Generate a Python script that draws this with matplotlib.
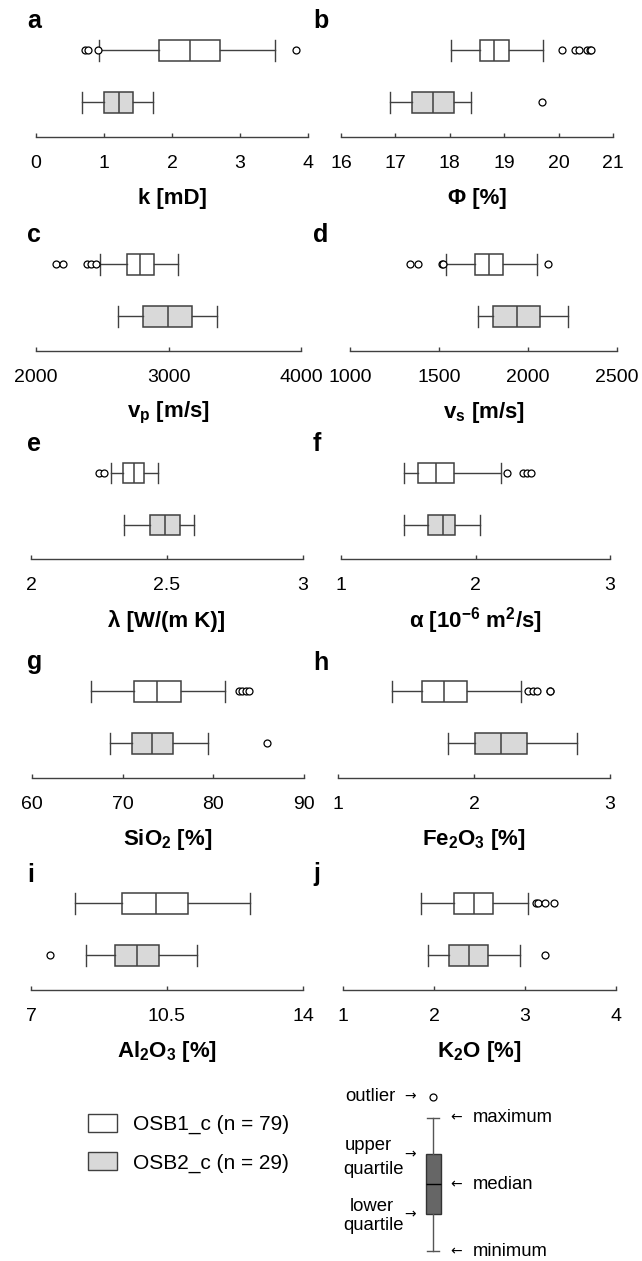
import matplotlib.pyplot as plt
from matplotlib.patches import Patch

plt.rcParams['font.family'] = ['Liberation Sans', 'DejaVu Sans']
plt.rcParams['mathtext.fontset'] = 'custom'
plt.rcParams['mathtext.rm'] = 'Liberation Sans:bold'
plt.rcParams['mathtext.it'] = 'Liberation Sans:bold'
plt.rcParams['mathtext.bf'] = 'Liberation Sans:bold'

W, H = 642, 1261

# five-number summaries: whisker low, lower quartile, median, upper quartile, whisker high
k_osb1 = [0.93, 1.81, 2.26, 2.71, 3.51]
k_osb1_out = [0.72, 0.77, 0.91, 3.83]
k_osb2 = [0.68, 1.00, 1.22, 1.42, 1.72]
k_osb2_out = []
k_ticks = [0, 1, 2, 3, 4]
k_labels = ['0', '1', '2', '3', '4']

phi_osb1 = [18.02, 18.55, 18.82, 19.08, 19.72]
phi_osb1_out = [20.07, 20.31, 20.38, 20.52, 20.58, 20.6]
phi_osb2 = [16.9, 17.31, 17.69, 18.07, 18.39]
phi_osb2_out = [19.7]
phi_ticks = [16, 17, 18, 19, 20, 21]
phi_labels = ['16', '17', '18', '19', '20', '21']

vp_osb1 = [2480, 2684, 2786, 2893, 3070]
vp_osb1_out = [2148, 2206, 2387, 2412, 2455]
vp_osb2 = [2618, 2809, 2997, 3179, 3368]
vp_osb2_out = []
vp_ticks = [2000, 3000, 4000]
vp_labels = ['2000', '3000', '4000']

vs_osb1 = [1541, 1701, 1782, 1858, 2049]
vs_osb1_out = [1338, 1383, 1516, 1523, 2112]
vs_osb2 = [1718, 1802, 1937, 2068, 2223]
vs_osb2_out = []
vs_ticks = [1000, 1500, 2000, 2500]
vs_labels = ['1000', '1500', '2000', '2500']

lam_osb1 = [2.295, 2.338, 2.377, 2.417, 2.468]
lam_osb1_out = [2.249, 2.27]
lam_osb2 = [2.342, 2.436, 2.494, 2.547, 2.6]
lam_osb2_out = []
lam_ticks = [2, 2.5, 3]
lam_labels = ['2', '2.5', '3']

alpha_osb1 = [1.47, 1.57, 1.705, 1.843, 2.19]
alpha_osb1_out = [2.235, 2.355, 2.38, 2.41]
alpha_osb2 = [1.465, 1.646, 1.755, 1.85, 2.03]
alpha_osb2_out = []
alpha_ticks = [1, 2, 3]
alpha_labels = ['1', '2', '3']

sio2_osb1 = [66.5, 71.3, 73.8, 76.4, 81.25]
sio2_osb1_out = [82.8, 83.2, 83.6, 83.9]
sio2_osb2 = [68.6, 71.0, 73.2, 75.5, 79.4]
sio2_osb2_out = [85.9]
sio2_ticks = [60, 70, 80, 90]
sio2_labels = ['60', '70', '80', '90']

fe_osb1 = [1.40, 1.614, 1.78, 1.95, 2.342]
fe_osb1_out = [2.40, 2.435, 2.46, 2.56, 2.56]
fe_osb2 = [1.81, 2.006, 2.198, 2.39, 2.76]
fe_osb2_out = []
fe_ticks = [1, 2, 3]
fe_labels = ['1', '2', '3']

al_osb1 = [8.13, 9.35, 10.21, 11.05, 12.63]
al_osb1_out = []
al_osb2 = [8.42, 9.16, 9.73, 10.29, 11.27]
al_osb2_out = [7.5]
al_ticks = [7, 10.5, 14]
al_labels = ['7', '10.5', '14']

k2o_osb1 = [1.856, 2.223, 2.44, 2.645, 3.038]
k2o_osb1_out = [3.12, 3.14, 3.22, 3.32]
k2o_osb2 = [1.93, 2.168, 2.388, 2.598, 2.94]
k2o_osb2_out = [3.22]
k2o_ticks = [1, 2, 3, 4]
k2o_labels = ['1', '2', '3', '4']

# schematic box for the key
key_box = [1.0, 4.67, 7.67, 10.67, 14.33]
key_out = [16.43]

legend_labels = ['OSB1_c (n = 79)', 'OSB2_c (n = 29)']

panels = [
    ('a', 'k [mD]', k_osb1, k_osb1_out, k_osb2, k_osb2_out, k_ticks, k_labels),
    ('b', 'Φ [%]', phi_osb1, phi_osb1_out, phi_osb2, phi_osb2_out, phi_ticks, phi_labels),
    ('c', 'v$_\\mathregular{p}$ [m/s]', vp_osb1, vp_osb1_out, vp_osb2, vp_osb2_out, vp_ticks, vp_labels),
    ('d', 'v$_\\mathregular{s}$ [m/s]', vs_osb1, vs_osb1_out, vs_osb2, vs_osb2_out, vs_ticks, vs_labels),
    ('e', 'λ [W/(m K)]', lam_osb1, lam_osb1_out, lam_osb2, lam_osb2_out, lam_ticks, lam_labels),
    ('f', 'α [10$^\\mathregular{-6}$ m$^\\mathregular{2}$/s]', alpha_osb1, alpha_osb1_out, alpha_osb2, alpha_osb2_out, alpha_ticks, alpha_labels),
    ('g', 'SiO$_\\mathregular{2}$ [%]', sio2_osb1, sio2_osb1_out, sio2_osb2, sio2_osb2_out, sio2_ticks, sio2_labels),
    ('h', 'Fe$_\\mathregular{2}$O$_\\mathregular{3}$ [%]', fe_osb1, fe_osb1_out, fe_osb2, fe_osb2_out, fe_ticks, fe_labels),
    ('i', 'Al$_\\mathregular{2}$O$_\\mathregular{3}$ [%]', al_osb1, al_osb1_out, al_osb2, al_osb2_out, al_ticks, al_labels),
    ('j', 'K$_\\mathregular{2}$O [%]', k2o_osb1, k2o_osb1_out, k2o_osb2, k2o_osb2_out, k2o_ticks, k2o_labels),
]

LINE = '#404040'
FILL2 = '#d9d9d9'


def rect(x, ytop, w, h):
    return [x / W, 1 - (ytop + h) / H, w / W, h / H]


def stats(s, out):
    return dict(whislo=s[0], q1=s[1], med=s[2], q3=s[3], whishi=s[4], fliers=out)


fig = plt.figure(figsize=(W / 100, H / 100), dpi=100)

# axis extents in pixels (left, right) for each panel
ax_x = [(36, 308), (341, 613), (36, 301), (350, 617), (31, 303),
        (341, 610), (32, 304), (338, 610), (31, 303), (343, 616)]
axis_y = [136.5, 350.5, 559, 777.5, 989.5]
AX_H = 112

for i, (letter, xlabel, s1, o1, s2, o2, ticks, labels) in enumerate(panels):
    row, col = i // 2, i % 2
    x0, x1 = ax_x[i]
    ax = fig.add_axes(rect(x0, axis_y[row] - AX_H, x1 - x0, AX_H))
    bp = ax.bxp([stats(s1, o1), stats(s2, o2)], positions=[2, 1], widths=0.385,
                capwidths=0.385, orientation='horizontal', patch_artist=True,
                manage_ticks=False,
                boxprops=dict(edgecolor=LINE, linewidth=1.1),
                whiskerprops=dict(color=LINE, linewidth=1.0),
                capprops=dict(color=LINE, linewidth=1.0),
                medianprops=dict(color=LINE, linewidth=1.1),
                flierprops=dict(marker='o', markerfacecolor='white',
                                markeredgecolor='black', markersize=5,
                                markeredgewidth=0.9))
    bp['boxes'][0].set_facecolor('white')
    bp['boxes'][1].set_facecolor(FILL2)
    ax.set_xlim(ticks[0], ticks[-1])
    ax.set_ylim(0.346, 2.5)
    for sp in ['top', 'left', 'right']:
        ax.spines[sp].set_visible(False)
    ax.spines['bottom'].set_color(LINE)
    ax.spines['bottom'].set_linewidth(1.0)
    ax.set_yticks([])
    ax.set_xticks(ticks)
    ax.set_xticklabels(labels)
    ax.tick_params(axis='x', direction='in', length=3, width=1.0, color=LINE,
                   labelsize=14, pad=13)
    ax.set_xlabel(xlabel, fontsize=16, fontweight='bold', va='center')
    ax.xaxis.set_label_coords(0.5, -62 / AX_H)
    fig.text((27 if col == 0 else 313) / W, 1 - (axis_y[row] - 108) / H, letter,
             fontsize=18, fontweight='bold', va='baseline', ha='left')

# legend
handles = [Patch(facecolor='white', edgecolor=LINE), Patch(facecolor=FILL2, edgecolor=LINE)]
fig.legend(handles, legend_labels, loc='upper left', bbox_to_anchor=(88 / W, 1 - 1114 / H),
           frameon=False, fontsize=15, handlelength=1.4, handleheight=0.96,
           handletextpad=0.77, labelspacing=0.85, borderpad=0, borderaxespad=0)

# schematic key
kax = fig.add_axes(rect(413.3, 1081, 40, 180))
kb = kax.bxp([stats(key_box, key_out)], positions=[2], widths=1.5, capwidths=1.2,
             patch_artist=True, manage_ticks=False,
             boxprops=dict(facecolor='#666666', edgecolor='#333333', linewidth=1.0),
             whiskerprops=dict(color='#555555', linewidth=1.0),
             capprops=dict(color='#555555', linewidth=1.0),
             medianprops=dict(color='black', linewidth=1.0),
             flierprops=dict(marker='o', markerfacecolor='white',
                             markeredgecolor='black', markersize=5, markeredgewidth=0.9))
kax.set_xlim(0, 4)
kax.set_ylim(0, 18)
kax.axis('off')


def t(x, y, s, ha='left', size=13.3):
    fig.text(x / W, 1 - y / H, s, ha=ha, va='center', fontsize=size)


def arrow(x, y, s):
    fig.text(x / W, 1 - y / H, s, ha='left', va='center', fontsize=10,
             family=['DejaVu Sans'])


t(345, 1096.7, 'outlier')
arrow(404, 1096.7, '→')
arrow(450, 1117.7, '←')
t(472.7, 1117.7, 'maximum')
t(368, 1146, 'upper', ha='center')
t(373, 1169, 'quartile', ha='center')
arrow(404, 1154.3, '→')
arrow(450, 1184.3, '←')
t(472.7, 1184.3, 'median')
t(372, 1206.7, 'lower', ha='center')
t(373, 1226, 'quartile', ha='center')
arrow(404, 1214.3, '→')
arrow(450, 1251, '←')
t(472.7, 1251, 'minimum')

plt.savefig('out.png', dpi=100)
